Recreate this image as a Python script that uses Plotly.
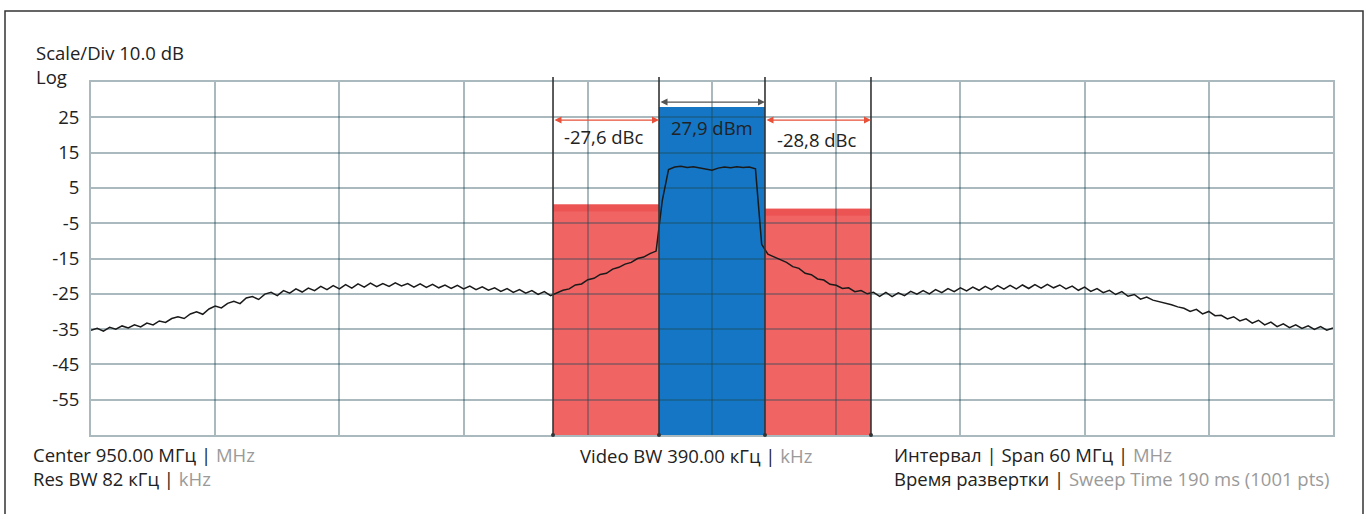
import numpy as np
import plotly.graph_objects as go

# ---------------- data ----------------
f_start, f_step = 920.0, 0.3
trace_dbm = [
    -35.3, -34.8, -35.6, -34.5, -35.0, -34.1, -34.7, -33.8, -34.4, -33.3,
    -33.8, -32.7, -33.1, -32.0, -31.5, -32.0, -30.7, -30.1, -30.8, -29.3,
    -28.5, -29.0, -27.7, -27.1, -27.8, -26.2, -25.8, -26.6, -25.1, -24.6,
    -25.5, -24.1, -24.8, -23.6, -24.5, -23.4, -24.1, -22.9, -23.8, -22.7,
    -23.6, -22.4, -23.4, -22.2, -23.1, -22.0, -23.0, -22.1, -22.9, -21.9,
    -22.8, -22.1, -23.1, -22.2, -23.2, -22.3, -23.3, -22.5, -23.5, -22.6,
    -23.6, -22.8, -23.8, -23.0, -24.0, -23.3, -24.3, -23.5, -24.6, -23.8,
    -24.8, -24.1, -25.2, -24.4, -25.5, -24.7, -24.0, -23.6, -22.5, -22.2,
    -21.0, -20.6, -19.5, -19.2, -18.0, -17.5, -16.6, -16.1, -15.0, -14.6,
    -13.6, -12.9, 1.5, 10.2, 10.9, 11.1, 10.8, 11.0, 10.7, 10.5,
    10.0, 10.6, 10.9, 10.7, 11.0, 10.8, 10.9, 10.4, -11.0, -13.8,
    -14.5, -15.4, -16.1, -17.3, -17.8, -19.2, -19.6, -20.8, -21.1, -22.3,
    -22.6, -23.5, -23.3, -24.4, -24.1, -25.0, -24.6, -25.7, -24.6, -25.8,
    -24.7, -25.5, -24.3, -25.1, -24.1, -25.0, -23.8, -24.7, -23.5, -24.4,
    -23.3, -24.2, -23.1, -24.0, -22.9, -23.8, -22.7, -23.7, -22.6, -23.6,
    -22.5, -23.5, -22.4, -23.4, -22.3, -23.3, -22.5, -23.6, -22.8, -24.0,
    -23.1, -24.3, -23.5, -24.7, -24.0, -25.2, -24.4, -25.7, -25.2, -26.5,
    -25.9, -26.8, -27.2, -27.7, -28.1, -28.7, -29.1, -30.0, -29.4, -30.7,
    -30.0, -31.2, -31.1, -32.1, -31.5, -32.7, -32.1, -33.3, -32.5, -33.8,
    -33.0, -34.3, -33.5, -34.6, -33.8, -34.8, -34.1, -35.1, -34.3, -35.3,
    -34.7,
]
freq_mhz = [round(f_start + f_step * i, 2) for i in range(len(trace_dbm))]

channel_edges = [942.32, 947.44, 952.56, 957.68]
main_power_dbm = 27.9
acpr_dbc = [-27.6, -28.8]
acpr_labels = ["-27,6 dBc", "-28,8 dBc"]
main_label = "27,9 dBm"
red_marker_level = 24.2
dim_marker_level = 29.3

y_tickvals = [-65, -55, -45, -35, -25, -15, -5, 5, 15, 25, 35]
y_ticktext = ["", "-55", "-45", "-35", "-25", "-15", "-5", "5", "15", "25", ""]
x_tickvals = [920, 926, 932, 938, 944, 950, 956, 962, 968, 974, 980]

# ---------------- figure ----------------
FONT = "Open Sans"
FS = 18.5
TXT = "#222222"
GREY = "#9a9a9a"
RED = "rgb(240,100,100)"
RED_DARK = "rgb(236,84,84)"
BLUE = "rgb(20,118,196)"

fig = go.Figure()

fig.add_trace(go.Scatter(
    x=freq_mhz, y=trace_dbm, mode="lines",
    line=dict(color="#1a1a1a", width=1.5), hoverinfo="skip", showlegend=False,
))

dot_x, dot_y = [], []
for e in channel_edges:
    dot_x += [e, e]
    dot_y += [-65, 36.2]
fig.add_trace(go.Scatter(
    x=dot_x, y=dot_y, mode="markers", marker=dict(color="#333", size=4),
    cliponaxis=False, hoverinfo="skip", showlegend=False,
))

shapes = []
ymin = y_tickvals[0]
adj_levels = [main_power_dbm + acpr_dbc[0], main_power_dbm + acpr_dbc[1]]
adj_spans = [(channel_edges[0], channel_edges[1]), (channel_edges[2], channel_edges[3])]
for (x0, x1), lvl in zip(adj_spans, adj_levels):
    shapes.append(dict(type="rect", xref="x", yref="y", x0=x0, x1=x1, y0=ymin, y1=lvl,
                       fillcolor=RED, line=dict(width=0), layer="below"))
    shapes.append(dict(type="rect", xref="x", yref="y", x0=x0, x1=x1, y0=lvl - 2.0, y1=lvl,
                       fillcolor=RED_DARK, line=dict(width=0), layer="below"))
shapes.append(dict(type="rect", xref="x", yref="y", x0=channel_edges[1], x1=channel_edges[2],
                   y0=ymin, y1=main_power_dbm, fillcolor=BLUE, line=dict(width=0), layer="below"))
for e in channel_edges:
    shapes.append(dict(type="line", xref="x", yref="paper", x0=e, x1=e, y0=0, y1=1.014,
                       line=dict(color="#333", width=1.6), layer="above"))
shapes.append(dict(type="rect", xref="paper", yref="paper",
                   x0=(5 - 91) / 1242, x1=(1363 - 91) / 1242, y0=-0.3, y1=(435 - 11) / 353,
                   line=dict(color="#333", width=1.5), fillcolor="rgba(0,0,0,0)", layer="below"))

annotations = []
for (x0, x1) in adj_spans:
    annotations.append(dict(x=x1, y=red_marker_level, ax=x0, ay=red_marker_level,
                            xref="x", yref="y", axref="x", ayref="y", text="",
                            showarrow=True, arrowside="end+start", arrowhead=2, arrowsize=1,
                            arrowwidth=1.4, arrowcolor="#e8503a", standoff=0, startstandoff=0))
annotations.append(dict(x=channel_edges[2], y=dim_marker_level, ax=channel_edges[1], ay=dim_marker_level,
                        xref="x", yref="y", axref="x", ayref="y", text="",
                        showarrow=True, arrowside="end+start", arrowhead=2, arrowsize=1,
                        arrowwidth=1.4, arrowcolor="#555", standoff=0, startstandoff=0))
annotations.append(dict(x=944.78, y=19.7, xref="x", yref="y", text=acpr_labels[0], showarrow=False,
                        font=dict(family=FONT, size=FS, color=TXT)))
annotations.append(dict(x=955.07, y=18.6, xref="x", yref="y", text=acpr_labels[1], showarrow=False,
                        font=dict(family=FONT, size=FS, color=TXT)))
annotations.append(dict(x=950.0, y=22.0, xref="x", yref="y", text=main_label, showarrow=False,
                        font=dict(family=FONT, size=FS, color=TXT)))


def px2paper(px, py):
    return (px - 91) / 1242, (435 - py) / 353


g = lambda s: f"<span style='color:{GREY}'>{s}</span>"
info_texts = [
    (34, 64, "Scale/Div 10.0 dB<br>Log"),
    (31, 466, f"Center 950.00 МГц |{g(' MHz')}<br>Res BW 82 кГц |{g(' kHz')}"),
    (578, 455, f"Video BW 390.00 кГц |{g(' kHz')}"),
    (892, 466, f"Интервал | Span 60 МГц |{g(' MHz')}<br>Время развертки |{g(' Sweep Time 190 ms (1001 pts)')}"),
]
for px, py, t in info_texts:
    xp, yp = px2paper(px, py)
    annotations.append(dict(x=xp, y=yp, xref="paper", yref="paper", text=t, showarrow=False,
                            xanchor="left", yanchor="middle", align="left",
                            font=dict(family=FONT, size=FS, color=TXT)))

GRID = "rgba(30,70,85,0.38)"
fig.update_layout(
    width=1371, height=514,
    margin=dict(l=91, r=38, t=82, b=79),
    paper_bgcolor="white", plot_bgcolor="white",
    shapes=shapes, annotations=annotations,
    font=dict(family=FONT, size=FS, color=TXT),
    xaxis=dict(range=[920, 980], tickvals=x_tickvals, showticklabels=False,
               showgrid=True, gridcolor=GRID, gridwidth=2, zeroline=False,
               showline=True, mirror=True, linecolor=GRID, linewidth=2, ticks=""),
    yaxis=dict(range=[-65, 35], tickvals=y_tickvals, ticktext=y_ticktext,
               showgrid=True, gridcolor=GRID, gridwidth=2, zeroline=False,
               showline=True, mirror=True, linecolor=GRID, linewidth=2, ticks="",
               ticklabelstandoff=6, tickfont=dict(family=FONT, size=FS, color=TXT)),
)

fig.write_html("out.html")
